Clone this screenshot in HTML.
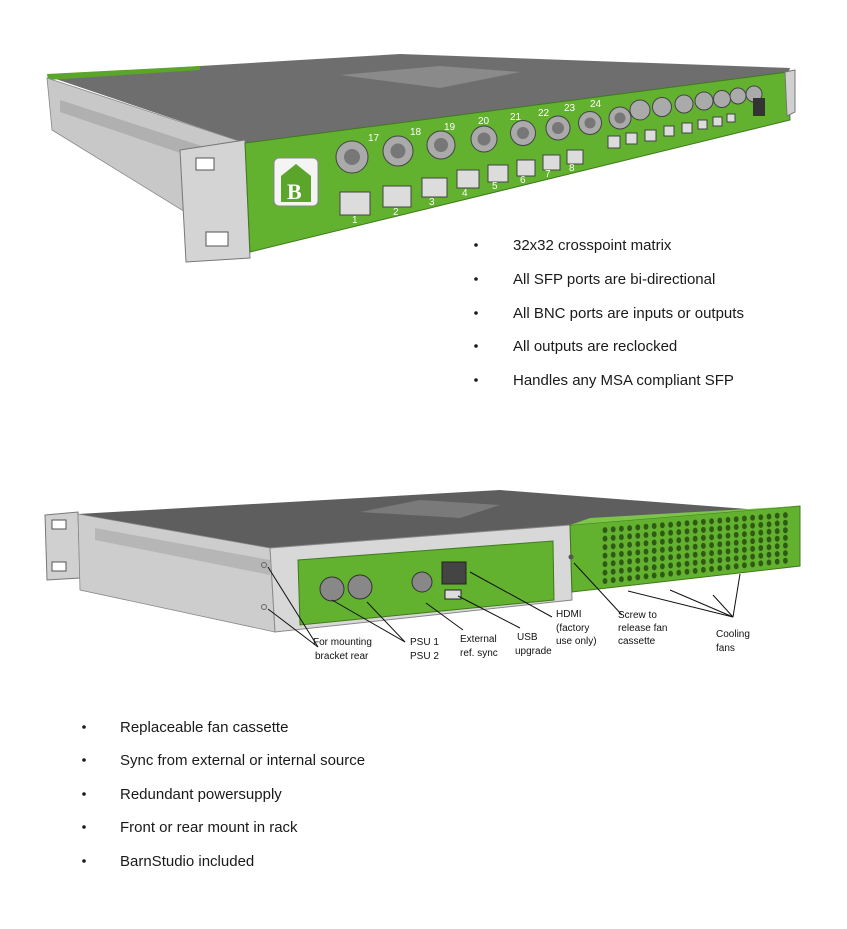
<!DOCTYPE html>
<html><head><meta charset="utf-8"><style>
body{margin:0;background:#fff;width:847px;height:929px;overflow:hidden;font-family:"Liberation Sans",sans-serif}
svg{position:absolute;left:0;top:0}
.b{font-size:15px;fill:#1a1a1a}
.l{font-size:10px;fill:#111}
</style></head><body>
<svg width="847" height="929" viewBox="0 0 847 929">
<polygon points="47,76 200,66 400,54 790,68 788,74 245,143" fill="#6e6e6e"/>
<polygon points="47,74 200,66 200,70 48,80" fill="#5aa52a"/>
<polygon points="340,75 440,66 520,72 440,88" fill="#8a8a8a"/>
<polygon points="47,78 245,143 250,252 52,130" fill="#c8c8c8" stroke="#888" stroke-width="0.8"/>
<polygon points="60,100 245,160 245,175 60,112" fill="#b0b0b0"/>
<polygon points="180,150 245,140 250,258 186,262" fill="#d4d4d4" stroke="#777" stroke-width="1"/>
<rect x="196" y="158" width="18" height="12" fill="#fff" stroke="#555"/>
<rect x="206" y="232" width="22" height="14" fill="#fff" stroke="#555"/>
<polygon points="245,143 788,72 790,120 250,252" fill="#62b12f" stroke="#3f7a1c" stroke-width="1"/>
<polygon points="785,72 795,70 795,112 787,116" fill="#d0d0d0" stroke="#777"/>
<rect x="274" y="158" width="44" height="48" rx="5" fill="#f4f4f4" stroke="#888"/>
<polygon points="281,176 296,164 311,176 311,202 281,202" fill="#5aa52a"/>
<text x="287" y="199" font-size="22" font-weight="bold" fill="#fff" font-family="Liberation Serif,serif">B</text>
<g fill="#aaa" stroke="#444" stroke-width="1">
<circle cx="352" cy="157" r="16"/><circle cx="398" cy="151" r="15"/><circle cx="441" cy="145" r="14"/><circle cx="484" cy="139" r="13"/>
<circle cx="523" cy="133" r="12.5"/><circle cx="558" cy="128" r="12"/><circle cx="590" cy="123" r="11.5"/><circle cx="620" cy="118" r="11"/>
<circle cx="640" cy="110" r="10"/><circle cx="662" cy="107" r="9.5"/><circle cx="684" cy="104" r="9"/><circle cx="704" cy="101" r="9"/>
<circle cx="722" cy="99" r="8.5"/><circle cx="738" cy="96" r="8"/><circle cx="754" cy="94" r="8"/>
</g>
<g fill="#777"><circle cx="352" cy="157" r="8"/><circle cx="398" cy="151" r="7.5"/><circle cx="441" cy="145" r="7"/><circle cx="484" cy="139" r="6.5"/><circle cx="523" cy="133" r="6"/><circle cx="558" cy="128" r="6"/><circle cx="590" cy="123" r="5.5"/><circle cx="620" cy="118" r="5.5"/></g>
<g fill="#dcdcdc" stroke="#444" stroke-width="1">
<rect x="340" y="192" width="30" height="23"/><rect x="383" y="186" width="28" height="21"/><rect x="422" y="178" width="25" height="19"/><rect x="457" y="170" width="22" height="18"/>
<rect x="488" y="165" width="20" height="17"/><rect x="517" y="160" width="18" height="16"/><rect x="543" y="155" width="17" height="15"/><rect x="567" y="150" width="16" height="14"/>
<rect x="608" y="136" width="12" height="12"/><rect x="626" y="133" width="11" height="11"/><rect x="645" y="130" width="11" height="11"/><rect x="664" y="126" width="10" height="10"/>
<rect x="682" y="123" width="10" height="10"/><rect x="698" y="120" width="9" height="9"/><rect x="713" y="117" width="9" height="9"/><rect x="727" y="114" width="8" height="8"/>
</g>
<rect x="753" y="98" width="12" height="18" fill="#333"/>
<g font-size="10" fill="#fff"><text x="352" y="223">1</text><text x="393" y="215">2</text><text x="429" y="205">3</text><text x="462" y="196">4</text><text x="492" y="189">5</text><text x="520" y="183">6</text><text x="545" y="177">7</text><text x="569" y="171">8</text>
<text x="368" y="141">17</text><text x="410" y="135">18</text><text x="444" y="130">19</text><text x="478" y="124">20</text><text x="510" y="120">21</text><text x="538" y="116">22</text><text x="564" y="111">23</text><text x="590" y="107">24</text></g>
<g class="b"><circle cx="476" cy="245" r="1.8"/><circle cx="476" cy="279" r="1.8"/><circle cx="476" cy="313" r="1.8"/><circle cx="476" cy="346" r="1.8"/><circle cx="476" cy="380" r="1.8"/>
<text x="513" y="250">32x32 crosspoint matrix</text><text x="513" y="284">All SFP ports are bi-directional</text><text x="513" y="318">All BNC ports are inputs or outputs</text><text x="513" y="351">All outputs are reclocked</text><text x="513" y="385">Handles any MSA compliant SFP</text></g>

<polygon points="78,514 500,490 760,510 570,525 270,548" fill="#5e5e5e"/>
<polygon points="360,512 420,500 500,505 460,518" fill="#7a7a7a"/>
<polygon points="45,515 78,512 80,578 47,580" fill="#d0d0d0" stroke="#777"/>
<rect x="52" y="520" width="14" height="9" fill="#fff" stroke="#555"/><rect x="52" y="562" width="14" height="9" fill="#fff" stroke="#555"/>
<polygon points="78,514 270,548 275,632 80,590" fill="#cdcdcd" stroke="#888" stroke-width="0.8"/>
<polygon points="95,528 270,560 270,575 95,540" fill="#b6b6b6"/>
<polygon points="270,548 570,525 572,600 275,632" fill="#d8d8d8" stroke="#888"/>
<polygon points="298,560 553,541 554,600 300,625" fill="#62b12f" stroke="#3f7a1c"/>
<g fill="#888" stroke="#333"><circle cx="332" cy="589" r="12"/><circle cx="360" cy="587" r="12"/><circle cx="422" cy="582" r="10"/></g>
<rect x="442" y="562" width="24" height="22" fill="#444" stroke="#222"/><rect x="445" y="590" width="16" height="9" fill="#ddd" stroke="#222"/>
<polygon points="570,525 800,506 800,566 572,592" fill="#62b12f" stroke="#3f7a1c"/>
<polygon points="570,525 590,518 800,506" fill="#7cc44a"/>
<g fill="#2f5a16" id="dots"></g>
<circle cx="264" cy="565" r="2.5" fill="none" stroke="#666"/><circle cx="264" cy="607" r="2.5" fill="none" stroke="#666"/>
<circle cx="571" cy="557" r="2.5" fill="#555"/>
<g stroke="#111" stroke-width="1" fill="none">
<line x1="268" y1="567" x2="318" y2="647"/><line x1="268" y1="609" x2="318" y2="647"/>
<line x1="332" y1="600" x2="405" y2="642"/><line x1="367" y1="602" x2="405" y2="642"/>
<line x1="426" y1="603" x2="463" y2="630"/><line x1="458" y1="596" x2="520" y2="628"/>
<line x1="470" y1="572" x2="552" y2="617"/><line x1="574" y1="563" x2="622" y2="615"/>
<line x1="628" y1="591" x2="733" y2="617"/><line x1="670" y1="590" x2="733" y2="617"/><line x1="713" y1="595" x2="733" y2="617"/><line x1="740" y1="574" x2="733" y2="617"/>
</g>
<g class="l">
<text x="313" y="645">For mounting</text><text x="315" y="659">bracket rear</text>
<text x="410" y="645">PSU 1</text><text x="410" y="659">PSU 2</text>
<text x="460" y="642">External</text><text x="460" y="656">ref. sync</text>
<text x="517" y="640">USB</text><text x="515" y="654">upgrade</text>
<text x="556" y="617">HDMI</text><text x="556" y="631">(factory</text><text x="556" y="644">use only)</text>
<text x="618" y="618">Screw to</text><text x="618" y="631">release fan</text><text x="618" y="644">cassette</text>
<text x="716" y="637">Cooling</text><text x="716" y="651">fans</text>
</g>
<g class="b"><circle cx="84" cy="727" r="1.8"/><circle cx="84" cy="760" r="1.8"/><circle cx="84" cy="794" r="1.8"/><circle cx="84" cy="827" r="1.8"/><circle cx="84" cy="861" r="1.8"/>
<text x="120" y="732">Replaceable fan cassette</text><text x="120" y="765">Sync from external or internal source</text><text x="120" y="799">Redundant powersupply</text><text x="120" y="832">Front or rear mount in rack</text><text x="120" y="866">BarnStudio included</text></g>
</svg>
<script>
(function(){
var g=document.getElementById('dots'),s='';
for(var c=0;c<23;c++){var x=605+c*8.2,t0=533-0.083*(x-570),t1=585-0.113*(x-570);
for(var r=0;r<7;r++){var y=t0+(t1-t0)*r/6;s+='<ellipse cx="'+x.toFixed(1)+'" cy="'+y.toFixed(1)+'" rx="2.4" ry="3"/>';}}
g.innerHTML=s;
})();
</script>
</body></html>
